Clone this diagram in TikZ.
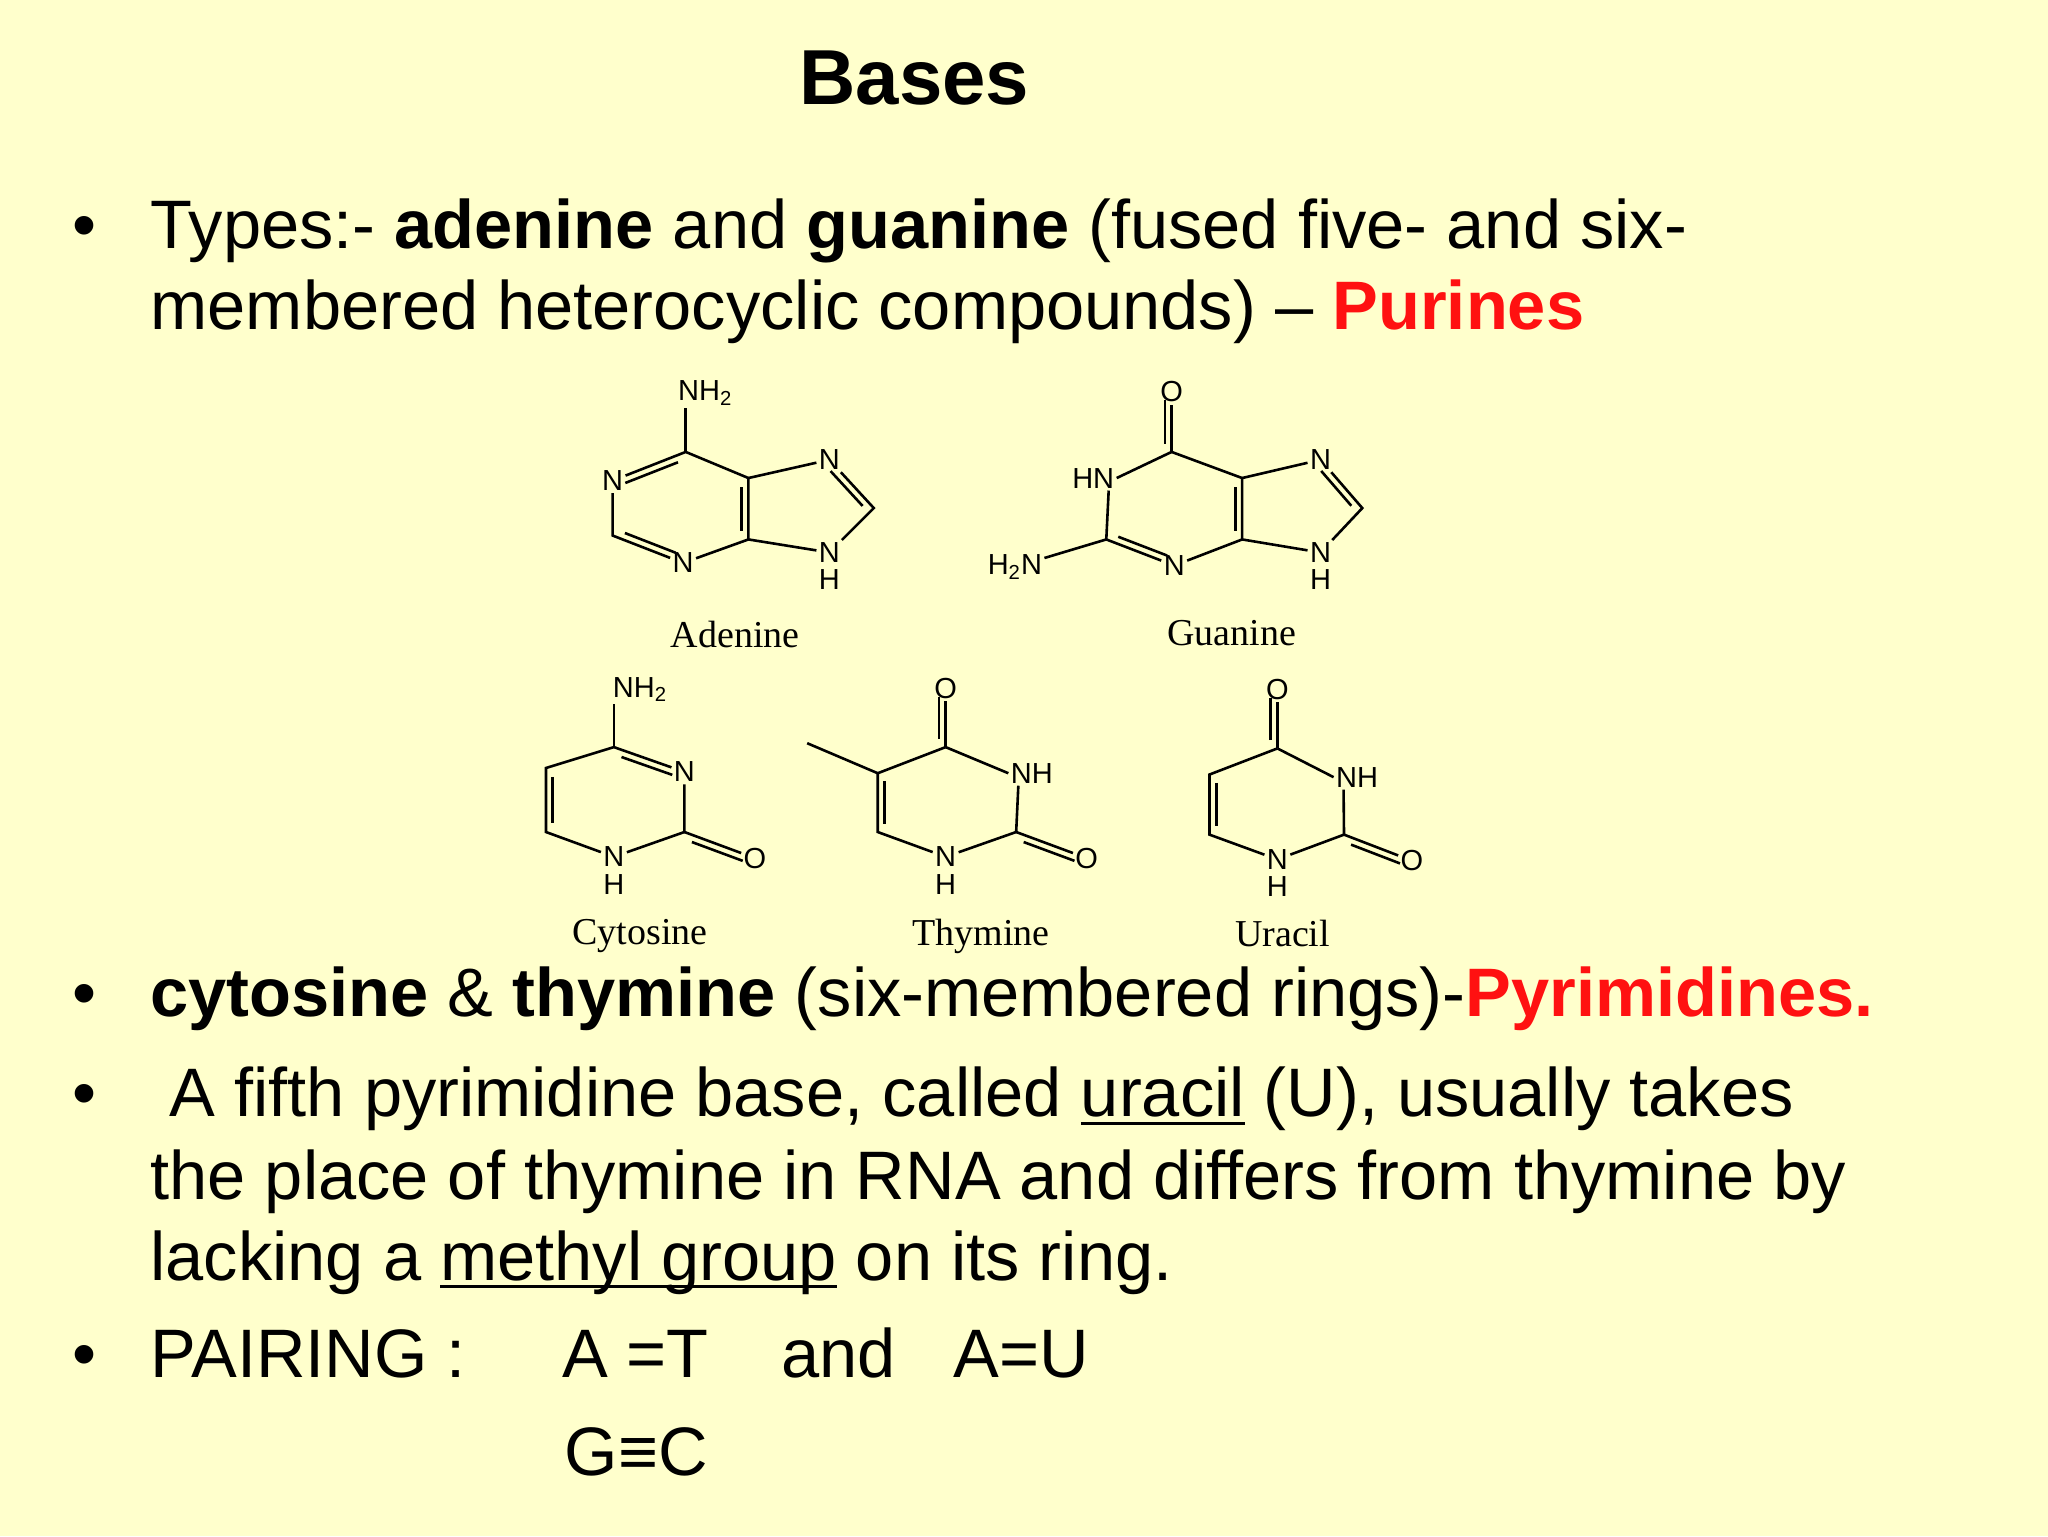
\documentclass[tikz,border=0pt]{standalone}
\usepackage{fontspec}
\setmainfont{Liberation Sans}
\newfontfamily\serifx{Liberation Serif}
\usetikzlibrary{calc}
\definecolor{bgy}{RGB}{255,255,204}
\definecolor{redx}{RGB}{255,17,17}
\newcommand\dbondx[3]{\draw ($(#1)!0.14!(#2)!3.4pt!#3:(#2)$) -- ($(#2)!0.14!(#1)!3.4pt!-#3:(#1)$);}
\newcommand\ulx[1]{\setbox0\hbox{#1}\rlap{\rule[-4pt]{\wd0}{1.6pt}}#1}
\begin{document}
\begin{tikzpicture}[x=0.65306pt,y=-0.65306pt,
  body/.style={anchor=base west,inner sep=0pt,font=\fontsize{34.3}{40}\selectfont},
  bul/.style={anchor=base west,inner sep=0pt,font=\fontsize{34.3}{40}\selectfont},
  atom/.style={inner sep=0.6pt,font=\fontsize{14.5}{15}\selectfont},
  capx/.style={inner sep=0pt,font=\serifx\fontsize{19}{20}\selectfont},
  bond/.style={line width=1.3pt}]
\fill[bgy] (0,0) rectangle (1568,1176);
\useasboundingbox (0,0) rectangle (1568,1176);
\node[inner sep=0pt,anchor=base,font=\bfseries\fontsize{39}{42}\selectfont] (title) at (700,80) {Bases};
% bullets
\node[bul] (b1) at (55,190) {•};
\node[body] (t1a) at (115,190) {Types:- \textbf{adenine} and \textbf{guanine} (fused five- and six-};
\node[body] (t1b) at (115,252) {membered heterocyclic compounds) – \textcolor{redx}{\textbf{Purines}}};
\node[bul] (b2) at (55,778) {•};
\node[body] (t2) at (115,778) {\textbf{cytosine} \& \textbf{thymine} (six-membered rings)-\textcolor{redx}{\textbf{Pyrimidines.}}};
\node[bul] (b3) at (55,855) {•};
\node[body] (t3a) at (115,855) {\ A fifth pyrimidine base, called \ulx{uracil} (U), usually takes};
\node[body] (t3b) at (115,918) {the place of thymine in RNA and differs from thymine by};
\node[body] (t3c) at (115,980) {lacking a \ulx{methyl group} on its ring.};
\node[bul] (b4) at (55,1055) {•};
\node[body] (t4a) at (115,1055) {PAIRING :};
\node[body] (t4b) at (430,1055) {A =T};
\node[body] (t4c) at (598,1055) {and};
\node[body] (t4d) at (730,1055) {A=U};
\node[body] (t4e) at (432,1130) {G≡C};
% ---------- Adenine
\begin{scope}[bond]
\node[atom] (aNH) at (540,301) {NH\textsubscript{2}};
\coordinate (aC6) at (525,346);
\node[atom] (aN1) at (469,368) {N};
\coordinate (aC2) at (469,410);
\node[atom] (aN3) at (523,431) {N};
\coordinate (aC4) at (573,413);
\coordinate (aC5) at (573,366);
\node[atom] (aN7) at (635,352) {N};
\coordinate (aC8) at (669,389);
\node[atom] (aN9) at (635,423) {N};
\node[atom] (aH9) at (635,444) {H};
\draw (aC6) -- (aNH.south -| aC6);
\draw (aC6) -- (aN1) -- (aC2) -- (aN3) -- (aC4) -- (aC5) -- (aC6);
\draw (aC5) -- (aN7) -- (aC8) -- (aN9) -- (aC4);
\dbondx{aC6}{aN1}{90}
\dbondx{aC2}{aN3}{90}
\dbondx{aC4}{aC5}{90}
\dbondx{aN7}{aC8}{-90}
\node[capx] (capA) at (563,486) {Adenine};
% ---------- Guanine
\node[atom] (gO) at (897,300) {O};
\coordinate (gC6) at (897,346);
\node[atom] (gN1) at (837,366) {HN};
\coordinate (gC2) at (847,413);
\node[atom] (gN3) at (899,433) {N};
\node[atom] (gNH) at (777,434) {H\textsubscript{2}N};
\coordinate (gC4) at (951,413);
\coordinate (gC5) at (951,366);
\node[atom] (gN7) at (1011,352) {N};
\coordinate (gC8) at (1043,389);
\node[atom] (gN9) at (1011,423) {N};
\node[atom] (gH9) at (1011,444) {H};
\draw (gC6) -- (gO);
\draw (gC6) -- (gN1.east);
\path (gN1.south east) ++(-4pt,0) coordinate (gN1b);
\draw (gN1b) -- (gC2) -- (gN3) -- (gC4) -- (gC5) -- (gC6);
\draw (gC2) -- (gNH);
\draw (gC5) -- (gN7) -- (gC8) -- (gN9) -- (gC4);
\dbondx{gC6}{gO}{90}
\dbondx{gC2}{gN3}{90}
\dbondx{gC4}{gC5}{90}
\dbondx{gN7}{gC8}{-90}
\node[capx] (capG) at (943,485) {Guanine};
% ---------- Cytosine
\node[atom] (cNH) at (490,528) {NH\textsubscript{2}};
\coordinate (cC4) at (470,572);
\node[atom] (cN3) at (524,591) {N};
\coordinate (cC2) at (524,637);
\node[atom] (cO) at (578,657) {O};
\node[atom] (cN1) at (470,656) {N};
\node[atom] (cH1) at (470,677) {H};
\coordinate (cC6) at (418,637);
\coordinate (cC5) at (418,588);
\draw (cC4) -- (cNH.south -| cC4);
\draw (cC4) -- (cN3) -- (cC2) -- (cN1) -- (cC6) -- (cC5) -- (cC4);
\draw (cC2) -- (cO);
\dbondx{cC4}{cN3}{-90}
\dbondx{cC2}{cO}{-90}
\dbondx{cC5}{cC6}{90}
\node[capx] (capC) at (490,717) {Cytosine};
% ---------- Thymine
\node[atom] (tO4) at (724,527) {O};
\coordinate (tC4) at (724,572);
\node[atom,anchor=west] (tN3) at (772,592) {NH};
\coordinate (tC2) at (778,637);
\node[atom] (tO2) at (832,657) {O};
\node[atom] (tN1) at (724,656) {N};
\node[atom] (tH1) at (724,677) {H};
\coordinate (tC6) at (672,637);
\coordinate (tC5) at (672,592);
\coordinate (tMe) at (618,569);
\draw (tC4) -- (tO4);
\draw (tC4) -- (tN3.west);
\path (tN3.south west) ++(5pt,0) coordinate (tN3b);
\draw (tN3b) -- (tC2) -- (tN1) -- (tC6) -- (tC5) -- (tC4);
\draw (tC2) -- (tO2);
\draw (tC5) -- (tMe);
\dbondx{tC4}{tO4}{90}
\dbondx{tC2}{tO2}{-90}
\dbondx{tC5}{tC6}{90}
\node[capx] (capT) at (751,717) {Thymine};
% ---------- Uracil
\node[atom] (uO4) at (978,528) {O};
\coordinate (uC4) at (978,573);
\node[atom,anchor=west] (uN3) at (1021,595) {NH};
\coordinate (uC2) at (1029,639);
\node[atom] (uO2) at (1081,659) {O};
\node[atom] (uN1) at (978,658) {N};
\node[atom] (uH1) at (978,679) {H};
\coordinate (uC6) at (926,639);
\coordinate (uC5) at (926,593);
\draw (uC4) -- (uO4);
\draw (uC4) -- (uN3.west);
\path (uN3.south west) ++(5pt,0) coordinate (uN3b);
\draw (uN3b) -- (uC2) -- (uN1) -- (uC6) -- (uC5) -- (uC4);
\draw (uC2) -- (uO2);
\dbondx{uC4}{uO4}{90}
\dbondx{uC2}{uO2}{-90}
\dbondx{uC5}{uC6}{90}
\node[capx] (capU) at (982,715) {Uracil};
\end{scope}
\end{tikzpicture}
\end{document}
